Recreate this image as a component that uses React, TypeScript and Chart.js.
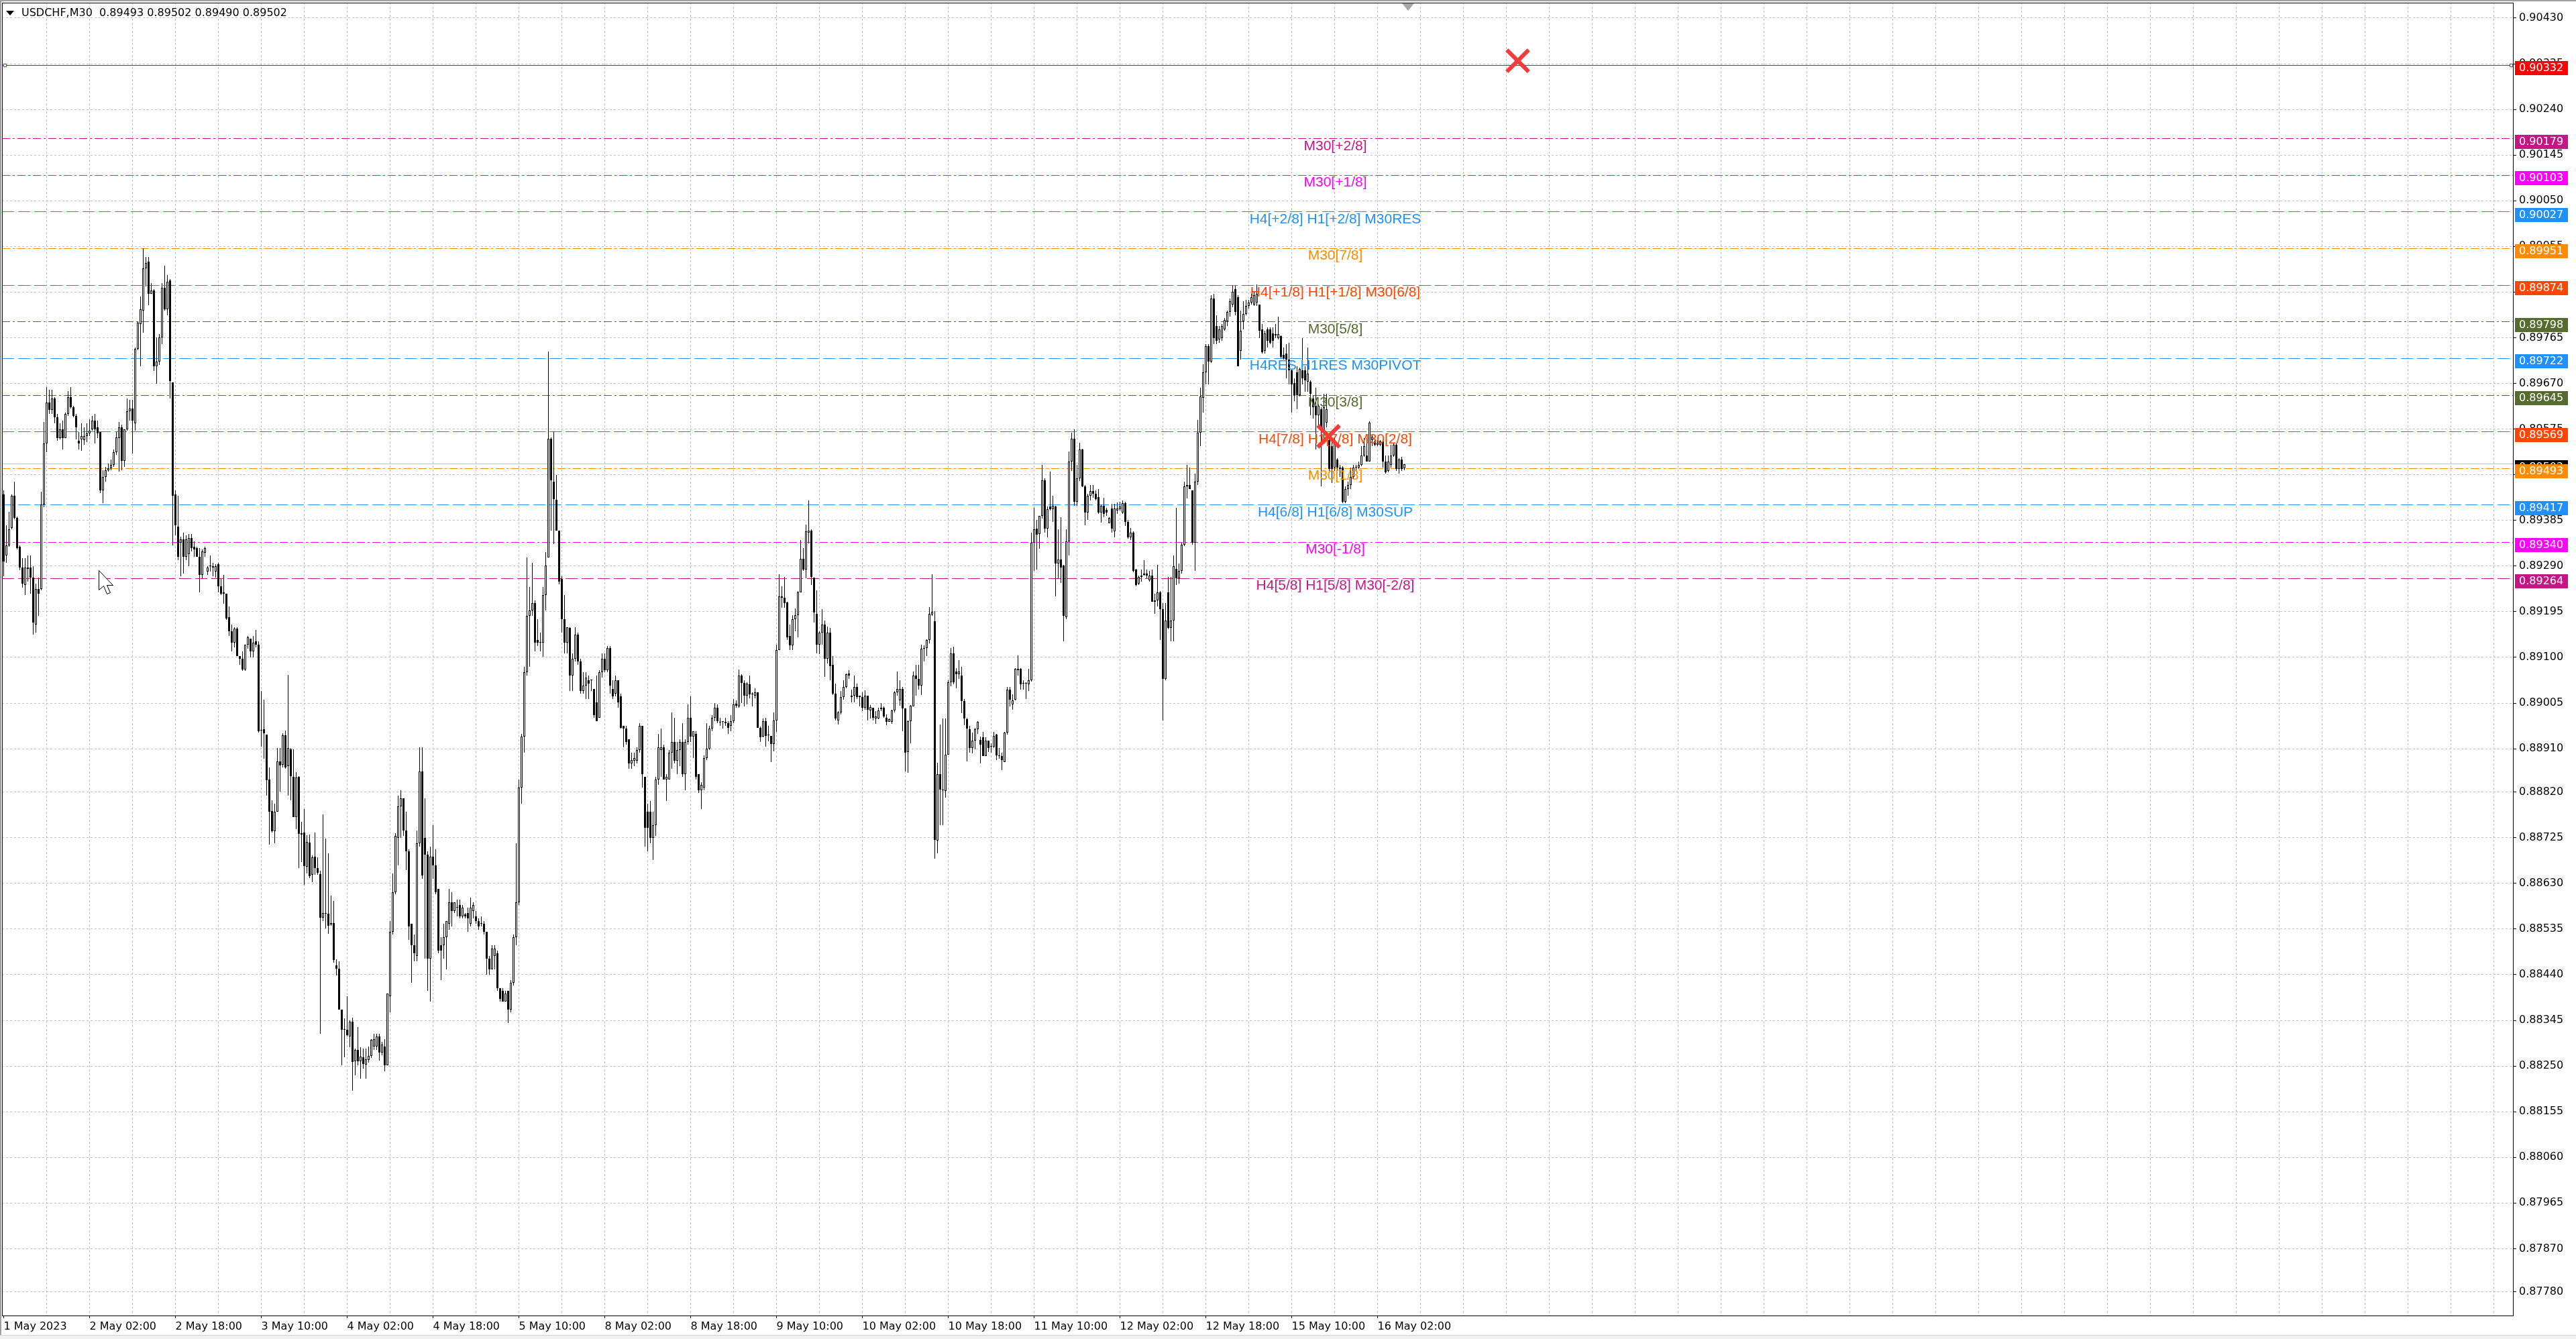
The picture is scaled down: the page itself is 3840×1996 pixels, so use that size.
import React, { useEffect, useRef } from "react";
import { Chart, registerables } from "chart.js";

Chart.register(...registerables);

// ---------------- DATA ----------------
const SYMBOL = "USDCHF,M30";
const POINT = 100000; // prices below are stored in points (1e-5)

const OPEN = [
89439,89312,89333,89369,89436,89390,89330,89287,89251,89287,
89287,89266,89169,89242,89242,89418,89545,89630,89615,89639,
89600,89557,89575,89557,89606,89642,89621,89603,89551,89554,
89552,89560,89566,89575,89593,89578,89569,89448,89475,89490,
89493,89500,89527,89557,89578,89509,89575,89612,89618,89587,
89742,89793,89821,89909,89924,89857,89863,89706,89715,89766,
89869,89824,89884,89672,89439,89372,89339,89345,89309,89315,
89348,89330,89327,89309,89272,89318,89278,89290,89287,89278,
89294,89248,89236,89233,89184,89154,89130,89160,89103,89097,
89075,89127,89139,89112,89133,89127,88948,88950,88940,88846,
88780,88739,88779,88884,88877,88938,88874,88909,88852,88768,
88852,88731,88736,88665,88715,88648,88685,88662,88649,88559,
88567,88567,88544,88548,88459,88452,88367,88325,88325,88311,
88342,88260,88283,88260,88268,88253,88262,88271,88290,88290,
88312,88278,88290,88251,88395,88529,88612,88724,88790,88807,
88740,88696,88546,88501,88479,88713,88863,88724,88690,88473,
88685,88668,88618,88501,88501,88518,88546,88590,88573,88579,
88585,88562,88565,88568,88546,88573,88562,88551,88546,88546,
88529,88473,88451,88479,88484,88412,88406,88384,88406,88367,
88423,88518,88590,88829,88935,89069,89186,89197,89213,89136,
89130,89130,89230,89308,89555,89466,89428,89364,89263,89180,
89130,89161,89063,89097,89147,89091,89030,89041,89052,89052,
89035,89007,88974,89069,89097,89074,89119,89035,89024,89052,
89019,88957,88952,88930,88879,88885,88885,88907,88957,88852,
88779,88779,88724,88751,88846,88907,88913,88846,88846,88902,
88924,88885,88907,88924,88857,88924,88974,88935,88941,88857,
88824,88829,88891,88910,88952,88974,88996,88966,88966,88966,
88963,88957,88968,89004,88998,89062,89047,89021,89044,89023,
89020,89027,88954,88935,88967,88938,88937,88920,88969,89116,
89227,89224,89214,89145,89125,89180,89188,89236,89305,89283,
89360,89364,89266,89191,89126,89152,89168,89097,89152,89084,
89025,88969,88986,89017,89039,89067,89020,89020,89039,89020,
89018,88995,89020,88990,88995,88973,88973,88993,88995,88975,
88966,88966,88990,89028,89010,89035,88994,88903,88967,88998,
89062,89055,89041,89118,89120,89136,89189,89176,88719,88857,
88825,88822,88898,89048,89109,89070,89065,89062,89009,88972,
88951,88911,88927,88950,88928,88934,88895,88927,88914,88914,
88939,88896,88895,88882,88943,89033,89003,89012,89076,89076,
89046,89046,89044,89052,89339,89368,89357,89394,89469,89368,
89414,89408,89414,89296,89304,89291,89184,89342,89507,89555,
89424,89472,89533,89456,89402,89437,89446,89440,89434,89402,
89416,89407,89379,89410,89363,89405,89408,89402,89421,89382,
89350,89360,89283,89254,89267,89271,89274,89261,89270,89216,
89219,89235,89200,89056,89235,89161,89177,89284,89264,89280,
89334,89456,89459,89447,89338,89466,89568,89640,89693,89748,
89716,89847,89790,89761,89764,89783,89799,89818,89834,89866,
89850,89738,89799,89815,89831,89838,89834,89838,89834,89783,
89738,89783,89783,89774,89772,89764,89769,89729,89732,89719,
89697,89671,89693,89645,89697,89697,89674,89674,89639,89623,
89604,89617,89572,89588,89552,89540,89495,89511,89495,89495,
89424,89450,89459,89475,89495,89495,89501,89520,89520,89508,
89552,89549,89543,89543,89549,89508,89488,89501,89520,89543,
89492,89511,89493];

const HIGH = [
89448,89375,89403,89439,89466,89393,89333,89306,89306,89312,
89312,89290,89254,89266,89445,89590,89663,89657,89657,89642,
89606,89587,89593,89609,89654,89663,89624,89606,89569,89587,
89578,89587,89596,89603,89606,89593,89569,89490,89496,89503,
89512,89533,89569,89590,89584,89575,89639,89636,89636,89745,
89799,89851,89951,89933,89933,89878,89866,89766,89772,89878,
89915,89896,89887,89672,89448,89436,89351,89360,89354,89357,
89357,89342,89330,89327,89324,89330,89290,89312,89297,89294,
89297,89263,89272,89233,89206,89169,89163,89163,89103,89112,
89127,89145,89139,89145,89157,89133,89030,89012,88940,88871,
88803,88796,88912,88912,88942,88948,89064,88912,88909,88862,
88853,88758,88785,88730,88732,88689,88736,88684,88656,88773,
88723,88692,88604,88593,88472,88468,88367,88349,88395,88345,
88351,88286,88331,88289,88286,88286,88290,88306,88317,88317,
88317,88301,88306,88401,88551,88651,88735,88813,88824,88807,
88779,88701,88546,88523,88740,88913,88913,88807,88696,88707,
88751,88701,88618,88518,88546,88551,88618,88612,88590,88596,
88596,88585,88568,88579,88601,88590,88573,88557,88562,88551,
88529,88479,88501,88501,88490,88412,88412,88406,88406,88429,
88523,88713,88846,88941,89080,89308,89247,89297,89219,89180,
89152,89247,89319,89736,89558,89570,89480,89364,89269,89230,
89163,89163,89108,89163,89152,89097,89069,89069,89063,89054,
89035,89063,89074,89108,89108,89124,89124,89052,89063,89052,
89024,88957,88957,88930,88902,88902,88913,88963,88957,88852,
88796,88802,88779,88852,88941,88952,88918,88857,88907,88985,
88974,88924,88930,88963,88930,89002,89019,88946,88946,88857,
88840,88896,88963,88957,88980,89005,89002,88974,88968,88974,
88968,88980,89013,89010,89075,89065,89052,89048,89062,89027,
89036,89028,88956,88973,88975,88957,88937,88986,89126,89273,
89248,89267,89216,89168,89188,89202,89238,89344,89328,89376,
89427,89366,89266,89240,89155,89201,89177,89164,89161,89103,
89046,88988,89030,89052,89067,89073,89033,89062,89046,89020,
89027,89031,89020,89001,88995,88988,88995,89005,88998,88982,
88973,88991,89030,89070,89052,89039,88994,88969,89001,89070,
89084,89084,89126,89125,89137,89204,89273,89196,88881,88961,
88973,88973,89052,89120,89123,89078,89094,89081,89014,88975,
88958,88943,88954,88967,88935,88945,88934,88927,88921,88945,
88941,88911,88902,88945,89038,89038,89023,89078,89104,89078,
89052,89049,89076,89360,89411,89386,89395,89501,89472,89414,
89486,89437,89416,89366,89392,89293,89366,89529,89568,89575,
89501,89546,89534,89458,89440,89459,89458,89448,89450,89418,
89432,89411,89392,89420,89420,89423,89424,89427,89424,89386,
89370,89363,89284,89270,89283,89302,89283,89280,89283,89232,
89293,89238,89213,89213,89267,89267,89312,89411,89296,89338,
89466,89501,89495,89447,89482,89594,89661,89710,89751,89752,
89854,89857,89812,89790,89793,89806,89822,89847,89873,89873,
89854,89822,89841,89844,89844,89856,89860,89876,89834,89793,
89780,89786,89786,89786,89793,89809,89770,89745,89751,89754,
89700,89681,89706,89703,89764,89706,89745,89677,89645,89661,
89626,89620,89649,89649,89565,89552,89559,89514,89501,89498,
89456,89466,89495,89501,89501,89508,89540,89556,89556,89591,
89562,89552,89552,89552,89549,89520,89520,89543,89546,89545,
89514,89517,89502];

const LOW = [
89269,89297,89330,89366,89387,89324,89281,89245,89230,89257,
89233,89148,89151,89187,89239,89412,89527,89606,89606,89587,
89551,89554,89533,89557,89603,89618,89600,89554,89533,89530,
89542,89548,89560,89572,89545,89557,89442,89421,89466,89487,
89490,89497,89521,89487,89490,89497,89572,89593,89524,89572,
89739,89706,89775,89872,89833,89857,89696,89669,89709,89751,
89821,89812,89639,89333,89354,89303,89269,89275,89303,89290,
89321,89309,89309,89236,89263,89309,89272,89278,89269,89266,
89236,89230,89212,89178,89145,89112,89121,89103,89084,89072,
89072,89118,89100,89100,89121,88943,88915,88889,88812,88711,
88736,88713,88779,88821,88871,88868,88813,88803,88768,88743,
88662,88674,88627,88651,88641,88633,88648,88648,88317,88551,
88536,88525,88542,88465,88439,88367,88251,88268,88312,88289,
88198,88230,88251,88224,88245,88224,88257,88267,88284,88284,
88261,88272,88239,88251,88362,88523,88607,88668,88724,88729,
88657,88512,88423,88468,88468,88707,88640,88473,88406,88384,
88640,88607,88484,88429,88473,88451,88534,88540,88568,88562,
88557,88557,88557,88529,88540,88557,88546,88534,88540,88523,
88440,88440,88451,88451,88406,88384,88384,88384,88340,88362,
88418,88501,88585,88796,88902,89063,89080,89186,89113,89124,
89113,89102,89197,89308,89364,89336,89364,89252,89152,89108,
89108,89030,89030,89091,89085,89024,89024,89013,89013,89030,
88974,88968,88974,89058,89069,89069,89024,89013,89019,88996,
88952,88913,88918,88868,88868,88874,88879,88902,88829,88707,
88696,88713,88679,88729,88835,88852,88846,88802,88846,88868,
88879,88857,88874,88852,88824,88918,88924,88891,88846,88818,
88785,88824,88887,88907,88946,88968,88963,88957,88952,88957,
88941,88946,88963,88996,88995,89005,88998,89002,89015,88998,
89015,88954,88924,88934,88914,88926,88882,88905,88945,89116,
89203,89203,89136,89116,89116,89155,89142,89235,89280,89264,
89337,89251,89173,89109,89107,89127,89059,89088,89052,89022,
88969,88961,88982,89012,89036,89055,89007,89007,89014,88998,
88988,88991,88969,88973,88969,88962,88972,88988,88975,88959,
88966,88962,88985,89020,89000,88947,88863,88860,88921,88998,
89020,89033,89022,89091,89103,89129,89187,88682,88693,88751,
88751,88809,88898,89040,89044,89036,89055,88984,88959,88884,
88902,88900,88909,88941,88879,88895,88895,88903,88902,88911,
88886,88889,88866,88882,88940,88998,88991,89011,89062,89033,
89033,89014,89030,89050,89280,89283,89326,89389,89360,89350,
89405,89382,89227,89264,89255,89134,89180,89312,89488,89416,
89416,89467,89454,89375,89386,89427,89432,89427,89398,89381,
89392,89395,89379,89360,89350,89398,89405,89399,89373,89347,
89344,89277,89248,89251,89258,89270,89264,89258,89216,89190,
89206,89136,88969,89053,89158,89133,89133,89251,89254,89274,
89331,89431,89450,89334,89280,89459,89540,89610,89668,89668,
89713,89751,89751,89755,89758,89780,89790,89809,89828,89812,
89706,89719,89783,89812,89825,89834,89831,89831,89764,89732,
89732,89745,89751,89745,89764,89761,89722,89719,89681,89668,
89610,89633,89617,89643,89668,89652,89652,89604,89597,89533,
89578,89456,89552,89578,89488,89463,89488,89488,89475,89421,
89421,89437,89450,89472,89488,89492,89498,89517,89508,89508,
89540,89540,89540,89540,89495,89482,89485,89495,89517,89488,
89482,89488,89490];

const CLOSE = [
89300,89333,89366,89437,89390,89327,89287,89254,89287,89284,
89266,89172,89242,89233,89418,89545,89630,89615,89639,89600,
89557,89575,89557,89606,89642,89621,89603,89578,89545,89560,
89560,89566,89572,89593,89575,89566,89448,89475,89490,89493,
89500,89527,89558,89578,89509,89575,89612,89618,89593,89742,
89796,89824,89909,89921,89857,89863,89706,89715,89766,89869,
89824,89881,89675,89436,89375,89309,89345,89309,89345,89348,
89327,89324,89309,89272,89321,89327,89287,89290,89290,89290,
89248,89233,89233,89181,89154,89130,89160,89103,89097,89075,
89127,89142,89112,89130,89127,88946,88949,88942,88845,88779,
88739,88779,88884,88876,88938,88871,88912,88853,88768,88850,
88733,88735,88666,88716,88645,88684,88662,88652,88559,88568,
88567,88542,88548,88470,88452,88367,88325,88325,88315,88342,
88258,88284,88260,88270,88254,88264,88271,88304,88306,88312,
88278,88295,88251,88401,88529,88612,88729,88790,88807,88740,
88696,88540,88501,88484,88713,88863,88646,88690,88473,88685,
88668,88612,88490,88490,88518,88551,88590,88573,88590,88579,
88562,88579,88562,88557,88579,88585,88551,88540,88546,88529,
88473,88451,88495,88495,88412,88390,88384,88401,88367,88423,
88518,88590,88829,88935,89069,89186,89197,89213,89130,89130,
89130,89230,89291,89555,89469,89430,89364,89258,89180,89130,
89163,89063,89097,89147,89091,89030,89041,89058,89046,89052,
88980,88968,89069,89097,89074,89119,89041,89019,89052,89007,
88954,88952,88924,88879,88887,88891,88907,88957,88857,88746,
88746,88724,88751,88846,88913,88913,88846,88852,88902,88924,
88885,88907,88924,88857,88924,88974,88935,88946,88852,88824,
88835,88891,88910,88952,88974,88996,88968,88964,88966,88963,
88954,88968,89002,88999,89063,89047,89021,89046,89023,89023,
89027,88954,88934,88967,88937,88938,88920,88969,89116,89227,
89224,89213,89142,89125,89180,89188,89236,89305,89283,89362,
89364,89267,89193,89126,89152,89168,89097,89152,89082,89025,
88973,88986,89017,89039,89065,89062,89017,89039,89018,89017,
88995,89020,88991,88997,88975,88977,88990,88995,88977,88966,
88971,88990,89028,89034,89035,88994,88902,88967,88999,89062,
89055,89041,89118,89118,89136,89191,89195,88721,88857,88825,
88823,88898,89048,89109,89048,89065,89070,89009,88973,88952,
88911,88927,88950,88966,88918,88895,88927,88911,88914,88937,
88896,88895,88886,88943,89033,89012,89011,89076,89074,89044,
89046,89046,89052,89339,89366,89355,89394,89468,89368,89409,
89408,89416,89296,89304,89287,89187,89342,89507,89555,89424,
89472,89533,89456,89402,89437,89446,89440,89430,89402,89416,
89398,89402,89390,89368,89410,89410,89414,89421,89382,89350,
89360,89280,89251,89267,89270,89274,89270,89270,89216,89219,
89235,89200,89056,89177,89161,89177,89290,89264,89280,89334,
89456,89459,89450,89338,89466,89568,89643,89693,89748,89716,
89847,89764,89758,89783,89790,89802,89818,89841,89860,89818,
89706,89780,89815,89831,89838,89850,89854,89857,89780,89735,
89774,89758,89754,89758,89770,89772,89725,89722,89719,89697,
89668,89645,89645,89700,89681,89677,89690,89649,89620,89604,
89623,89572,89620,89617,89492,89492,89552,89495,89492,89424,
89450,89459,89475,89495,89495,89501,89520,89540,89508,89588,
89559,89543,89546,89549,89508,89485,89508,89520,89543,89492,
89511,89492,89502];

// one time label every 32 bars (16 hours), starting at bar 0
const TIME_LABELS = [
  "1 May 2023", "2 May 02:00", "2 May 18:00", "3 May 10:00", "4 May 02:00",
  "4 May 18:00", "5 May 10:00", "8 May 02:00", "8 May 18:00", "9 May 10:00",
  "10 May 02:00", "10 May 18:00", "11 May 10:00", "12 May 02:00", "12 May 18:00",
  "15 May 10:00", "16 May 02:00",
];

const PRICE_TICKS = [
  0.9043, 0.90335, 0.9024, 0.90145, 0.9005, 0.89955, 0.8986, 0.89765, 0.8967,
  0.89575, 0.8948, 0.89385, 0.8929, 0.89195, 0.891, 0.89005, 0.8891, 0.8882,
  0.88725, 0.8863, 0.88535, 0.8844, 0.88345, 0.8825, 0.88155, 0.8806, 0.87965,
  0.8787, 0.8778,
];

const LEVEL_PRICES = [
  0.90179, 0.90103, 0.90027, 0.89951, 0.89874, 0.89798, 0.89722,
  0.89645, 0.89569, 0.89493, 0.89417, 0.8934, 0.89264,
];
const LEVEL_NAMES = [
  "M30[+2/8]", "M30[+1/8]", "H4[+2/8] H1[+2/8] M30RES", "M30[7/8]",
  "H4[+1/8] H1[+1/8] M30[6/8]", "M30[5/8]", "H4RES H1RES M30PIVOT", "M30[3/8]",
  "H4[7/8] H1[7/8] M30[2/8]", "M30[1/8]", "H4[6/8] H1[6/8] M30SUP", "M30[-1/8]",
  "H4[5/8] H1[5/8] M30[-2/8]",
];
const TARGET_PRICE = 0.90332;
const MARKER_BARS = [564.25, 493.75];
const MARKER_PRICES = [0.90341, 0.8956];

// ---------------- STYLE / LAYOUT ----------------
const W = 3840;
const H = 1996;
const PAD_LEFT = 3;
const PAD_TOP = 4;
const AXIS_W = 94;
const AXIS_H = 35;
const BAR_PX = 4;
const X_MIN = -0.625;
const X_MAX = X_MIN + (W - AXIS_W - PAD_LEFT) / BAR_PX;
const Y_MIN = 0.87731;
const Y_MAX = 0.90462;
const LABEL_BAR = 496.25;
const BARS_PER_LABEL = 32;
const BARS_PER_GRID = 16;

const LEVEL_COLORS = [
  "#C71585", "#FF00FF", "#1E90FF", "#FF8C00", "#FF4500", "#556B2F", "#1E90FF",
  "#556B2F", "#FF4500", "#FF8C00", "#1E90FF", "#FF00FF", "#C71585",
];
const DASH_LONG = [18, 6];
const DASH_DOT = [12, 4, 3, 4];
const AXIS_FONT = '16px "DejaVu Sans", Verdana, sans-serif';
const LABEL_FONT = '21px "Liberation Sans", Arial, sans-serif';

const fmt = (v: number) => v.toFixed(5);

// snaps already-computed element positions to whole pixels so 1px lines and bodies stay crisp
const pixelSnap = {
  id: "pixelSnap",
  afterDatasetsUpdate(chart: any) {
    chart.data.datasets.forEach((ds: any, di: number) => {
      const meta = chart.getDatasetMeta(di);
      if (!meta || !meta.data) return;
      if (meta.type === "bar") {
        meta.data.forEach((el: any) => {
          let top = Math.round(Math.min(el.y, el.base));
          let bot = Math.round(Math.max(el.y, el.base));
          if (bot - top < 1) bot = top + 1;
          el.y = top;
          el.base = bot;
        });
      } else if (meta.type === "line") {
        meta.data.forEach((el: any) => {
          el.y = Math.floor(el.y) + 0.5;
        });
      }
    });
  },
};

const overlay = {
  id: "mt4overlay",
  beforeDraw(chart: any) {
    const { ctx } = chart;
    ctx.save();
    ctx.fillStyle = "#ffffff";
    ctx.fillRect(0, 0, W, H);
    ctx.restore();
  },
  afterDraw(chart: any) {
    const { ctx, chartArea: ca } = chart;
    const xs = chart.scales.x;
    const ys = chart.scales.y;
    ctx.save();

    // level captions
    ctx.font = LABEL_FONT;
    ctx.textAlign = "center";
    ctx.textBaseline = "alphabetic";
    const lx = xs.getPixelForValue(LABEL_BAR);
    LEVEL_PRICES.forEach((p, k) => {
      const py = ys.getPixelForValue(p);
      ctx.fillStyle = LEVEL_COLORS[k];
      ctx.fillText(LEVEL_NAMES[k], lx, Math.round(py) + 17);
    });

    // frame
    ctx.strokeStyle = "#000";
    ctx.lineWidth = 1;
    ctx.strokeRect(ca.left + 0.5, ca.top + 0.5, ca.right - ca.left, ca.bottom - ca.top);

    // price boxes on the right axis
    const n = CLOSE.length;
    const bid = CLOSE[n - 1] / POINT;
    const boxes: { p: number; c: string }[] = [{ p: bid, c: "#000000" }, { p: TARGET_PRICE, c: "#FF0000" }];
    LEVEL_PRICES.forEach((p, k) => boxes.push({ p, c: LEVEL_COLORS[k] }));
    ctx.font = AXIS_FONT;
    ctx.textAlign = "left";
    ctx.textBaseline = "middle";
    boxes.forEach((b) => {
      const py = Math.round(ys.getPixelForValue(b.p));
      ctx.fillStyle = b.c;
      ctx.fillRect(ca.right + 3, py - 6, 79, 21);
      ctx.fillStyle = "#ffffff";
      ctx.fillText(fmt(b.p), ca.right + 9, py + 4.5);
    });

    // header
    ctx.fillStyle = "#000";
    ctx.beginPath();
    ctx.moveTo(9, 16);
    ctx.lineTo(21, 16);
    ctx.lineTo(15, 23);
    ctx.closePath();
    ctx.fill();
    ctx.font = AXIS_FONT;
    ctx.textAlign = "left";
    ctx.textBaseline = "middle";
    const head = `${SYMBOL}  ${fmt(OPEN[n - 1] / POINT)} ${fmt(HIGH[n - 1] / POINT)} ${fmt(LOW[n - 1] / POINT)} ${fmt(CLOSE[n - 1] / POINT)}`;
    ctx.fillText(head, 32, 20);

    // chart shift marker
    const sx = Math.round(xs.getPixelForValue(n + 0.4));
    ctx.fillStyle = "#a8a8a8";
    ctx.beginPath();
    ctx.moveTo(sx - 9, ca.top + 1);
    ctx.lineTo(sx + 9, ca.top + 1);
    ctx.lineTo(sx, ca.top + 12);
    ctx.closePath();
    ctx.fill();

    // mouse pointer
    const cx = 147.5, cy = 850.5;
    ctx.beginPath();
    const pts = [[0, 0], [0, 29], [7, 23], [12, 35], [17, 33], [12, 22], [21, 22]];
    pts.forEach(([a, b], i) => (i ? ctx.lineTo(cx + a, cy + b) : ctx.moveTo(cx + a, cy + b)));
    ctx.closePath();
    ctx.fillStyle = "#ffffff";
    ctx.fill();
    ctx.strokeStyle = "#000";
    ctx.stroke();

    // window edges
    ctx.fillStyle = "#a0a0a0";
    ctx.fillRect(0, 0, W, 2);
    ctx.fillRect(0, 0, 2, H);
    ctx.fillStyle = "#f0f0f0";
    ctx.fillRect(0, H - 6, W, 6);
    ctx.fillStyle = "#d4d4d4";
    ctx.fillRect(0, H - 6, W, 1);
    ctx.restore();
  },
};

export default function App() {
  const ref = useRef<HTMLCanvasElement>(null);

  useEffect(() => {
    document.body.style.margin = "0";
    document.body.style.overflow = "hidden";
    const canvas = ref.current;
    if (!canvas) return;

    const wick = CLOSE.map((_, i) => ({ x: i, y: [LOW[i] / POINT, HIGH[i] / POINT] }));
    const body = CLOSE.map((c, i) => ({ x: i, y: [OPEN[i] / POINT, c / POINT] }));
    const bodyFill = CLOSE.map((c, i) => (c >= OPEN[i] ? "#ffffff" : "#000000"));
    const bid = CLOSE[CLOSE.length - 1] / POINT;

    const levelSets: any[] = LEVEL_PRICES.map((p, k) => ({
      type: "line",
      data: [{ x: X_MIN, y: p }, { x: X_MAX, y: p }],
      borderColor: LEVEL_COLORS[k],
      borderWidth: 1,
      borderDash: LEVEL_NAMES[k].startsWith("H4") ? DASH_LONG : DASH_DOT,
      pointRadius: 0,
      fill: false,
      order: 5,
    }));

    const gridTicks: { value: number }[] = [];
    for (let v = 0; v <= X_MAX; v += BARS_PER_GRID) gridTicks.push({ value: v });

    const isLabelled = (v: number) => v % BARS_PER_LABEL === 0 && v / BARS_PER_LABEL < TIME_LABELS.length;

    const chart = new Chart(canvas, {
      type: "bar",
      data: {
        datasets: [
          {
            type: "scatter",
            data: MARKER_BARS.map((b, i) => ({ x: b, y: MARKER_PRICES[i] })),
            pointStyle: "crossRot",
            pointRadius: 23,
            pointBorderWidth: 6,
            pointBorderColor: "#f23c3c",
            pointBackgroundColor: "#f23c3c",
            order: -1,
          } as any,
          {
            type: "bar",
            data: body,
            backgroundColor: bodyFill,
            borderColor: "#000000",
            borderWidth: 1,
            borderSkipped: false,
            barThickness: 3,
            minBarLength: 1,
            inflateAmount: 0,
            grouped: false,
            order: 1,
          } as any,
          {
            type: "bar",
            data: wick,
            backgroundColor: "#000000",
            borderWidth: 0,
            barThickness: 1,
            minBarLength: 1,
            inflateAmount: 0,
            grouped: false,
            order: 2,
          } as any,
          {
            type: "line",
            data: [{ x: X_MIN, y: bid }, { x: X_MAX, y: bid }],
            borderColor: "#c0c0c0",
            borderWidth: 1,
            pointRadius: 0,
            fill: false,
            order: 6,
          } as any,
          {
            type: "line",
            data: [
              { x: X_MIN, y: TARGET_PRICE },
              { x: 0.5, y: TARGET_PRICE },
              { x: X_MAX - 0.6, y: TARGET_PRICE },
              { x: X_MAX, y: TARGET_PRICE },
            ],
            borderColor: "#FF0000",
            borderWidth: 1,
            pointRadius: [0, 3, 3, 0],
            pointStyle: "rect",
            pointBorderColor: "#FF0000",
            pointBackgroundColor: "#ffffff",
            pointBorderWidth: 1,
            fill: false,
            order: 4,
          } as any,
          ...levelSets,
        ],
      },
      options: {
        responsive: false,
        maintainAspectRatio: false,
        animation: false,
        devicePixelRatio: 1,
        events: [],
        layout: { autoPadding: false, padding: { left: PAD_LEFT, top: PAD_TOP, right: 0, bottom: 0 } },
        plugins: { legend: { display: false }, tooltip: { enabled: false } },
        scales: {
          x: {
            type: "linear",
            min: X_MIN,
            max: X_MAX,
            offset: false,
            afterBuildTicks: (s: any) => {
              s.ticks = gridTicks.map((t) => ({ value: t.value }));
            },
            afterFit: (s: any) => {
              s.height = AXIS_H;
              s.paddingLeft = 0;
              s.paddingRight = 0;
            },
            grid: {
              color: (c: any) => (c.tick && c.tick.value === 0 ? "rgba(0,0,0,0)" : "#c0c0c0"),
              lineWidth: 1,
              offset: false,
              drawTicks: true,
              tickLength: 4,
              tickColor: (c: any) => (c.tick && isLabelled(c.tick.value) ? "#000000" : "rgba(0,0,0,0)"),
              tickBorderDash: [],
            },
            border: { display: false, dash: [3, 3] },
            ticks: {
              autoSkip: false,
              maxRotation: 0,
              minRotation: 0,
              align: "start",
              padding: 3,
              color: "#000000",
              font: { family: '"DejaVu Sans", Verdana, sans-serif', size: 16 },
              callback: (v: any) => {
                const n = Number(v);
                return isLabelled(n) ? TIME_LABELS[n / BARS_PER_LABEL] : "";
              },
            },
          },
          y: {
            type: "linear",
            position: "right",
            min: Y_MIN,
            max: Y_MAX,
            afterBuildTicks: (s: any) => {
              s.ticks = PRICE_TICKS.map((v) => ({ value: v }));
            },
            afterFit: (s: any) => {
              s.width = AXIS_W;
              s.paddingTop = 0;
              s.paddingBottom = 0;
            },
            grid: {
              color: "#c0c0c0",
              lineWidth: 1,
              drawTicks: true,
              tickLength: 5,
              tickColor: "#000000",
              tickBorderDash: [],
            },
            border: { display: false, dash: [3, 3] },
            ticks: {
              autoSkip: false,
              padding: 4,
              color: "#000000",
              font: { family: '"DejaVu Sans", Verdana, sans-serif', size: 16 },
              callback: (v: any) => fmt(Number(v)),
            },
          },
        },
      } as any,
      plugins: [pixelSnap, overlay],
    });

    return () => chart.destroy();
  }, []);

  return (
    <div style={{ width: W, height: H }}>
      <canvas ref={ref} width={W} height={H} style={{ display: "block", width: W, height: H }} />
    </div>
  );
}
